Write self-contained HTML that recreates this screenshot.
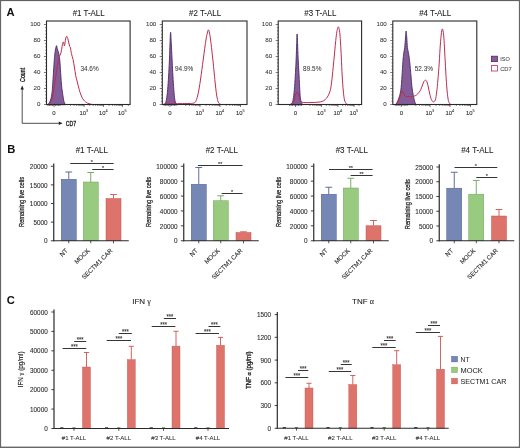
<!DOCTYPE html>
<html><head><meta charset="utf-8"><style>
html,body{margin:0;padding:0;background:#fff;width:520px;height:448px;overflow:hidden}
svg{display:block;filter:blur(0.3px)}
text{font-family:"Liberation Sans",sans-serif}
</style></head><body>
<svg width="520" height="448" viewBox="0 0 520 448">
<rect width="520" height="448" fill="#fff"/>
<text x="6.6" y="16.3" font-size="11.2" text-anchor="start" fill="#111" font-weight="bold">A</text>
<path d="M47.60,104.70 C47.84,104.46 48.56,104.19 49.10,103.20 C49.64,102.21 50.50,100.50 51.00,98.50 C51.50,96.50 51.93,93.70 52.25,90.70 C52.57,87.70 52.75,83.50 53.00,79.75 C53.25,76.00 53.54,71.00 53.80,67.25 C54.06,63.50 54.34,59.06 54.60,56.30 C54.86,53.54 55.10,51.70 55.40,50.00 C55.70,48.30 56.20,45.94 56.50,45.70 C56.80,45.46 56.98,47.56 57.25,48.50 C57.52,49.44 57.87,50.35 58.20,51.60 C58.53,52.85 59.00,54.30 59.30,56.30 C59.60,58.30 59.86,61.11 60.10,64.10 C60.34,67.09 60.56,71.50 60.80,75.00 C61.04,78.50 61.26,82.74 61.60,86.00 C61.94,89.26 62.52,92.90 62.90,95.40 C63.28,97.90 63.58,100.11 64.00,101.60 C64.42,103.09 65.26,104.20 65.50,104.70 Z" fill="#845c98" stroke="#4c2a62" stroke-width="0.9"/>
<path d="M48.30,104.70 C48.62,104.35 49.67,103.49 50.30,102.50 C50.93,101.51 51.69,100.66 52.25,98.50 C52.81,96.34 53.33,91.96 53.80,89.00 C54.27,86.04 54.70,83.20 55.20,80.00 C55.70,76.80 56.42,71.96 56.90,69.00 C57.38,66.04 57.80,63.50 58.20,61.50 C58.60,59.50 59.02,57.70 59.40,56.50 C59.78,55.30 60.25,55.12 60.60,54.00 C60.95,52.88 61.28,51.18 61.60,49.50 C61.92,47.82 62.30,44.70 62.60,43.50 C62.90,42.30 63.20,41.63 63.50,42.00 C63.80,42.37 64.16,46.28 64.50,45.80 C64.84,45.32 65.25,40.52 65.60,39.00 C65.95,37.48 66.35,36.38 66.70,36.30 C67.05,36.22 67.50,37.59 67.80,38.50 C68.10,39.41 68.31,40.80 68.60,42.00 C68.89,43.20 69.30,45.04 69.60,46.00 C69.90,46.96 70.21,46.80 70.50,48.00 C70.79,49.20 70.98,51.63 71.40,53.50 C71.82,55.37 72.62,57.54 73.10,59.70 C73.58,61.86 73.98,64.47 74.40,67.00 C74.82,69.53 75.24,73.10 75.70,75.50 C76.16,77.90 76.74,79.76 77.30,82.00 C77.86,84.24 78.61,87.42 79.20,89.50 C79.79,91.58 80.42,93.51 81.00,95.00 C81.58,96.49 82.19,97.81 82.80,98.80 C83.41,99.79 84.19,100.59 84.80,101.20 C85.41,101.81 85.93,102.20 86.60,102.60 C87.27,103.00 88.14,103.41 89.00,103.70 C89.86,103.99 91.52,104.29 92.00,104.40" fill="none" stroke="#bc2c50" stroke-width="1.0"/>
<rect x="46.50" y="21.00" width="83.60" height="83.50" fill="none" stroke="#2a2a2a" stroke-width="1.1"/>
<line x1="43.90" y1="104.50" x2="46.50" y2="104.50" stroke="#2a2a2a" stroke-width="0.6"/>
<line x1="45.20" y1="101.30" x2="46.50" y2="101.30" stroke="#2a2a2a" stroke-width="0.6"/>
<line x1="45.20" y1="98.10" x2="46.50" y2="98.10" stroke="#2a2a2a" stroke-width="0.6"/>
<line x1="45.20" y1="94.90" x2="46.50" y2="94.90" stroke="#2a2a2a" stroke-width="0.6"/>
<line x1="45.20" y1="91.70" x2="46.50" y2="91.70" stroke="#2a2a2a" stroke-width="0.6"/>
<line x1="43.90" y1="88.50" x2="46.50" y2="88.50" stroke="#2a2a2a" stroke-width="0.6"/>
<line x1="45.20" y1="85.30" x2="46.50" y2="85.30" stroke="#2a2a2a" stroke-width="0.6"/>
<line x1="45.20" y1="82.10" x2="46.50" y2="82.10" stroke="#2a2a2a" stroke-width="0.6"/>
<line x1="45.20" y1="78.90" x2="46.50" y2="78.90" stroke="#2a2a2a" stroke-width="0.6"/>
<line x1="45.20" y1="75.70" x2="46.50" y2="75.70" stroke="#2a2a2a" stroke-width="0.6"/>
<line x1="43.90" y1="72.50" x2="46.50" y2="72.50" stroke="#2a2a2a" stroke-width="0.6"/>
<line x1="45.20" y1="69.30" x2="46.50" y2="69.30" stroke="#2a2a2a" stroke-width="0.6"/>
<line x1="45.20" y1="66.10" x2="46.50" y2="66.10" stroke="#2a2a2a" stroke-width="0.6"/>
<line x1="45.20" y1="62.90" x2="46.50" y2="62.90" stroke="#2a2a2a" stroke-width="0.6"/>
<line x1="45.20" y1="59.70" x2="46.50" y2="59.70" stroke="#2a2a2a" stroke-width="0.6"/>
<line x1="43.90" y1="56.50" x2="46.50" y2="56.50" stroke="#2a2a2a" stroke-width="0.6"/>
<line x1="45.20" y1="53.30" x2="46.50" y2="53.30" stroke="#2a2a2a" stroke-width="0.6"/>
<line x1="45.20" y1="50.10" x2="46.50" y2="50.10" stroke="#2a2a2a" stroke-width="0.6"/>
<line x1="45.20" y1="46.90" x2="46.50" y2="46.90" stroke="#2a2a2a" stroke-width="0.6"/>
<line x1="45.20" y1="43.70" x2="46.50" y2="43.70" stroke="#2a2a2a" stroke-width="0.6"/>
<line x1="43.90" y1="40.50" x2="46.50" y2="40.50" stroke="#2a2a2a" stroke-width="0.6"/>
<line x1="45.20" y1="37.30" x2="46.50" y2="37.30" stroke="#2a2a2a" stroke-width="0.6"/>
<line x1="45.20" y1="34.10" x2="46.50" y2="34.10" stroke="#2a2a2a" stroke-width="0.6"/>
<line x1="45.20" y1="30.90" x2="46.50" y2="30.90" stroke="#2a2a2a" stroke-width="0.6"/>
<line x1="45.20" y1="27.70" x2="46.50" y2="27.70" stroke="#2a2a2a" stroke-width="0.6"/>
<line x1="43.90" y1="24.50" x2="46.50" y2="24.50" stroke="#2a2a2a" stroke-width="0.6"/>
<text x="40.5" y="106.3" font-size="6.2" text-anchor="end" fill="#333" stroke="#333" stroke-width="0.05">0</text>
<text x="40.5" y="90.3" font-size="6.2" text-anchor="end" fill="#333" stroke="#333" stroke-width="0.05">20</text>
<text x="40.5" y="74.3" font-size="6.2" text-anchor="end" fill="#333" stroke="#333" stroke-width="0.05">40</text>
<text x="40.5" y="58.3" font-size="6.2" text-anchor="end" fill="#333" stroke="#333" stroke-width="0.05">60</text>
<text x="40.5" y="42.3" font-size="6.2" text-anchor="end" fill="#333" stroke="#333" stroke-width="0.05">80</text>
<text x="40.5" y="26.3" font-size="6.2" text-anchor="end" fill="#333" stroke="#333" stroke-width="0.05">100</text>
<line x1="54.00" y1="104.50" x2="54.00" y2="106.90" stroke="#2a2a2a" stroke-width="0.7"/>
<line x1="84.00" y1="104.50" x2="84.00" y2="106.90" stroke="#2a2a2a" stroke-width="0.7"/>
<line x1="103.50" y1="104.50" x2="103.50" y2="106.90" stroke="#2a2a2a" stroke-width="0.7"/>
<line x1="122.50" y1="104.50" x2="122.50" y2="106.90" stroke="#2a2a2a" stroke-width="0.7"/>
<line x1="70.54" y1="104.50" x2="70.54" y2="106.00" stroke="#2a2a2a" stroke-width="0.55"/>
<line x1="73.93" y1="104.50" x2="73.93" y2="106.00" stroke="#2a2a2a" stroke-width="0.55"/>
<line x1="76.34" y1="104.50" x2="76.34" y2="106.00" stroke="#2a2a2a" stroke-width="0.55"/>
<line x1="78.21" y1="104.50" x2="78.21" y2="106.00" stroke="#2a2a2a" stroke-width="0.55"/>
<line x1="79.73" y1="104.50" x2="79.73" y2="106.00" stroke="#2a2a2a" stroke-width="0.55"/>
<line x1="81.02" y1="104.50" x2="81.02" y2="106.00" stroke="#2a2a2a" stroke-width="0.55"/>
<line x1="82.13" y1="104.50" x2="82.13" y2="106.00" stroke="#2a2a2a" stroke-width="0.55"/>
<line x1="83.12" y1="104.50" x2="83.12" y2="106.00" stroke="#2a2a2a" stroke-width="0.55"/>
<line x1="89.79" y1="104.50" x2="89.79" y2="106.00" stroke="#2a2a2a" stroke-width="0.55"/>
<line x1="93.18" y1="104.50" x2="93.18" y2="106.00" stroke="#2a2a2a" stroke-width="0.55"/>
<line x1="95.59" y1="104.50" x2="95.59" y2="106.00" stroke="#2a2a2a" stroke-width="0.55"/>
<line x1="97.46" y1="104.50" x2="97.46" y2="106.00" stroke="#2a2a2a" stroke-width="0.55"/>
<line x1="98.98" y1="104.50" x2="98.98" y2="106.00" stroke="#2a2a2a" stroke-width="0.55"/>
<line x1="100.27" y1="104.50" x2="100.27" y2="106.00" stroke="#2a2a2a" stroke-width="0.55"/>
<line x1="101.38" y1="104.50" x2="101.38" y2="106.00" stroke="#2a2a2a" stroke-width="0.55"/>
<line x1="102.37" y1="104.50" x2="102.37" y2="106.00" stroke="#2a2a2a" stroke-width="0.55"/>
<line x1="109.04" y1="104.50" x2="109.04" y2="106.00" stroke="#2a2a2a" stroke-width="0.55"/>
<line x1="112.43" y1="104.50" x2="112.43" y2="106.00" stroke="#2a2a2a" stroke-width="0.55"/>
<line x1="114.84" y1="104.50" x2="114.84" y2="106.00" stroke="#2a2a2a" stroke-width="0.55"/>
<line x1="116.71" y1="104.50" x2="116.71" y2="106.00" stroke="#2a2a2a" stroke-width="0.55"/>
<line x1="118.23" y1="104.50" x2="118.23" y2="106.00" stroke="#2a2a2a" stroke-width="0.55"/>
<line x1="119.52" y1="104.50" x2="119.52" y2="106.00" stroke="#2a2a2a" stroke-width="0.55"/>
<line x1="120.63" y1="104.50" x2="120.63" y2="106.00" stroke="#2a2a2a" stroke-width="0.55"/>
<line x1="121.62" y1="104.50" x2="121.62" y2="106.00" stroke="#2a2a2a" stroke-width="0.55"/>
<line x1="128.29" y1="104.50" x2="128.29" y2="106.00" stroke="#2a2a2a" stroke-width="0.55"/>
<line x1="48.00" y1="104.50" x2="48.00" y2="106.00" stroke="#2a2a2a" stroke-width="0.55"/>
<line x1="49.50" y1="104.50" x2="49.50" y2="106.00" stroke="#2a2a2a" stroke-width="0.55"/>
<line x1="51.00" y1="104.50" x2="51.00" y2="106.00" stroke="#2a2a2a" stroke-width="0.55"/>
<line x1="52.50" y1="104.50" x2="52.50" y2="106.00" stroke="#2a2a2a" stroke-width="0.55"/>
<line x1="55.50" y1="104.50" x2="55.50" y2="106.00" stroke="#2a2a2a" stroke-width="0.55"/>
<line x1="57.00" y1="104.50" x2="57.00" y2="106.00" stroke="#2a2a2a" stroke-width="0.55"/>
<line x1="58.50" y1="104.50" x2="58.50" y2="106.00" stroke="#2a2a2a" stroke-width="0.55"/>
<line x1="60.00" y1="104.50" x2="60.00" y2="106.00" stroke="#2a2a2a" stroke-width="0.55"/>
<text x="54.0" y="114.6" font-size="6.0" text-anchor="middle" fill="#2e2e2e" stroke="#2e2e2e" stroke-width="0.1">0</text>
<text x="82.8" y="114.8" font-size="5.9" text-anchor="middle" fill="#2e2e2e" stroke="#2e2e2e" stroke-width="0.1">10</text>
<text x="86.0" y="112.0" font-size="3.9" text-anchor="start" fill="#2e2e2e" stroke="#2e2e2e" stroke-width="0.05">3</text>
<text x="102.3" y="114.8" font-size="5.9" text-anchor="middle" fill="#2e2e2e" stroke="#2e2e2e" stroke-width="0.1">10</text>
<text x="105.5" y="112.0" font-size="3.9" text-anchor="start" fill="#2e2e2e" stroke="#2e2e2e" stroke-width="0.05">4</text>
<text x="121.3" y="114.8" font-size="5.9" text-anchor="middle" fill="#2e2e2e" stroke="#2e2e2e" stroke-width="0.1">10</text>
<text x="124.5" y="112.0" font-size="3.9" text-anchor="start" fill="#2e2e2e" stroke="#2e2e2e" stroke-width="0.05">5</text>
<text x="88.7" y="15.5" font-size="8.4" text-anchor="middle" fill="#222" textLength="32.0" lengthAdjust="spacingAndGlyphs" stroke="#222" stroke-width="0.08">#1 T-ALL</text>
<text x="80.4" y="71.0" font-size="7.0" text-anchor="start" fill="#3a3a3a" textLength="18.3" lengthAdjust="spacingAndGlyphs" stroke="#3a3a3a" stroke-width="0.05">34.6%</text>
<path d="M164.10,104.60 C164.34,104.31 165.17,103.95 165.60,102.80 C166.03,101.65 166.43,99.98 166.80,97.40 C167.17,94.82 167.58,90.70 167.90,86.70 C168.22,82.70 168.54,76.99 168.80,72.40 C169.06,67.81 169.31,62.56 169.50,58.00 C169.69,53.44 169.82,48.02 170.00,43.90 C170.18,39.78 170.39,32.25 170.60,32.25 C170.81,32.25 171.08,39.78 171.30,43.90 C171.52,48.02 171.78,53.44 172.00,58.00 C172.22,62.56 172.44,67.81 172.70,72.40 C172.96,76.99 173.31,82.70 173.60,86.70 C173.89,90.70 174.18,94.82 174.50,97.40 C174.82,99.98 175.17,101.65 175.60,102.80 C176.03,103.95 176.94,104.31 177.20,104.60 Z" fill="#845c98" stroke="#4c2a62" stroke-width="0.9"/>
<path d="M163.50,104.20 C164.54,104.14 167.36,103.90 170.00,103.80 C172.64,103.70 176.96,103.65 180.00,103.60 C183.04,103.55 186.92,103.56 189.00,103.50 C191.08,103.44 191.96,103.47 193.00,103.20 C194.04,102.93 194.76,102.95 195.50,101.80 C196.24,100.65 197.01,98.21 197.60,96.00 C198.19,93.79 198.72,90.72 199.20,88.00 C199.68,85.28 200.17,81.96 200.60,79.00 C201.03,76.04 201.47,72.70 201.90,69.50 C202.33,66.30 202.85,62.36 203.30,59.00 C203.75,55.64 204.25,51.70 204.70,48.50 C205.15,45.30 205.68,41.48 206.10,39.00 C206.52,36.52 206.93,34.47 207.30,33.00 C207.67,31.53 208.05,29.80 208.40,29.80 C208.75,29.80 209.15,31.37 209.50,33.00 C209.85,34.63 210.23,37.28 210.60,40.00 C210.97,42.72 211.43,46.80 211.80,50.00 C212.17,53.20 212.52,56.32 212.90,60.00 C213.28,63.68 213.78,68.84 214.20,73.00 C214.62,77.16 215.08,82.32 215.50,86.00 C215.92,89.68 216.37,93.44 216.80,96.00 C217.23,98.56 217.69,100.69 218.20,102.00 C218.71,103.31 219.39,103.78 220.00,104.20 C220.61,104.62 221.68,104.54 222.00,104.60" fill="none" stroke="#bc2c50" stroke-width="1.0"/>
<rect x="162.30" y="21.00" width="84.70" height="83.50" fill="none" stroke="#2a2a2a" stroke-width="1.1"/>
<line x1="159.70" y1="104.50" x2="162.30" y2="104.50" stroke="#2a2a2a" stroke-width="0.6"/>
<line x1="161.00" y1="101.30" x2="162.30" y2="101.30" stroke="#2a2a2a" stroke-width="0.6"/>
<line x1="161.00" y1="98.10" x2="162.30" y2="98.10" stroke="#2a2a2a" stroke-width="0.6"/>
<line x1="161.00" y1="94.90" x2="162.30" y2="94.90" stroke="#2a2a2a" stroke-width="0.6"/>
<line x1="161.00" y1="91.70" x2="162.30" y2="91.70" stroke="#2a2a2a" stroke-width="0.6"/>
<line x1="159.70" y1="88.50" x2="162.30" y2="88.50" stroke="#2a2a2a" stroke-width="0.6"/>
<line x1="161.00" y1="85.30" x2="162.30" y2="85.30" stroke="#2a2a2a" stroke-width="0.6"/>
<line x1="161.00" y1="82.10" x2="162.30" y2="82.10" stroke="#2a2a2a" stroke-width="0.6"/>
<line x1="161.00" y1="78.90" x2="162.30" y2="78.90" stroke="#2a2a2a" stroke-width="0.6"/>
<line x1="161.00" y1="75.70" x2="162.30" y2="75.70" stroke="#2a2a2a" stroke-width="0.6"/>
<line x1="159.70" y1="72.50" x2="162.30" y2="72.50" stroke="#2a2a2a" stroke-width="0.6"/>
<line x1="161.00" y1="69.30" x2="162.30" y2="69.30" stroke="#2a2a2a" stroke-width="0.6"/>
<line x1="161.00" y1="66.10" x2="162.30" y2="66.10" stroke="#2a2a2a" stroke-width="0.6"/>
<line x1="161.00" y1="62.90" x2="162.30" y2="62.90" stroke="#2a2a2a" stroke-width="0.6"/>
<line x1="161.00" y1="59.70" x2="162.30" y2="59.70" stroke="#2a2a2a" stroke-width="0.6"/>
<line x1="159.70" y1="56.50" x2="162.30" y2="56.50" stroke="#2a2a2a" stroke-width="0.6"/>
<line x1="161.00" y1="53.30" x2="162.30" y2="53.30" stroke="#2a2a2a" stroke-width="0.6"/>
<line x1="161.00" y1="50.10" x2="162.30" y2="50.10" stroke="#2a2a2a" stroke-width="0.6"/>
<line x1="161.00" y1="46.90" x2="162.30" y2="46.90" stroke="#2a2a2a" stroke-width="0.6"/>
<line x1="161.00" y1="43.70" x2="162.30" y2="43.70" stroke="#2a2a2a" stroke-width="0.6"/>
<line x1="159.70" y1="40.50" x2="162.30" y2="40.50" stroke="#2a2a2a" stroke-width="0.6"/>
<line x1="161.00" y1="37.30" x2="162.30" y2="37.30" stroke="#2a2a2a" stroke-width="0.6"/>
<line x1="161.00" y1="34.10" x2="162.30" y2="34.10" stroke="#2a2a2a" stroke-width="0.6"/>
<line x1="161.00" y1="30.90" x2="162.30" y2="30.90" stroke="#2a2a2a" stroke-width="0.6"/>
<line x1="161.00" y1="27.70" x2="162.30" y2="27.70" stroke="#2a2a2a" stroke-width="0.6"/>
<line x1="159.70" y1="24.50" x2="162.30" y2="24.50" stroke="#2a2a2a" stroke-width="0.6"/>
<text x="156.3" y="106.3" font-size="6.2" text-anchor="end" fill="#333" stroke="#333" stroke-width="0.05">0</text>
<text x="156.3" y="90.3" font-size="6.2" text-anchor="end" fill="#333" stroke="#333" stroke-width="0.05">20</text>
<text x="156.3" y="74.3" font-size="6.2" text-anchor="end" fill="#333" stroke="#333" stroke-width="0.05">40</text>
<text x="156.3" y="58.3" font-size="6.2" text-anchor="end" fill="#333" stroke="#333" stroke-width="0.05">60</text>
<text x="156.3" y="42.3" font-size="6.2" text-anchor="end" fill="#333" stroke="#333" stroke-width="0.05">80</text>
<text x="156.3" y="26.3" font-size="6.2" text-anchor="end" fill="#333" stroke="#333" stroke-width="0.05">100</text>
<line x1="170.00" y1="104.50" x2="170.00" y2="106.90" stroke="#2a2a2a" stroke-width="0.7"/>
<line x1="200.00" y1="104.50" x2="200.00" y2="106.90" stroke="#2a2a2a" stroke-width="0.7"/>
<line x1="219.90" y1="104.50" x2="219.90" y2="106.90" stroke="#2a2a2a" stroke-width="0.7"/>
<line x1="240.50" y1="104.50" x2="240.50" y2="106.90" stroke="#2a2a2a" stroke-width="0.7"/>
<line x1="185.85" y1="104.50" x2="185.85" y2="106.00" stroke="#2a2a2a" stroke-width="0.55"/>
<line x1="189.41" y1="104.50" x2="189.41" y2="106.00" stroke="#2a2a2a" stroke-width="0.55"/>
<line x1="191.94" y1="104.50" x2="191.94" y2="106.00" stroke="#2a2a2a" stroke-width="0.55"/>
<line x1="193.90" y1="104.50" x2="193.90" y2="106.00" stroke="#2a2a2a" stroke-width="0.55"/>
<line x1="195.51" y1="104.50" x2="195.51" y2="106.00" stroke="#2a2a2a" stroke-width="0.55"/>
<line x1="196.86" y1="104.50" x2="196.86" y2="106.00" stroke="#2a2a2a" stroke-width="0.55"/>
<line x1="198.04" y1="104.50" x2="198.04" y2="106.00" stroke="#2a2a2a" stroke-width="0.55"/>
<line x1="199.07" y1="104.50" x2="199.07" y2="106.00" stroke="#2a2a2a" stroke-width="0.55"/>
<line x1="206.10" y1="104.50" x2="206.10" y2="106.00" stroke="#2a2a2a" stroke-width="0.55"/>
<line x1="209.66" y1="104.50" x2="209.66" y2="106.00" stroke="#2a2a2a" stroke-width="0.55"/>
<line x1="212.19" y1="104.50" x2="212.19" y2="106.00" stroke="#2a2a2a" stroke-width="0.55"/>
<line x1="214.15" y1="104.50" x2="214.15" y2="106.00" stroke="#2a2a2a" stroke-width="0.55"/>
<line x1="215.76" y1="104.50" x2="215.76" y2="106.00" stroke="#2a2a2a" stroke-width="0.55"/>
<line x1="217.11" y1="104.50" x2="217.11" y2="106.00" stroke="#2a2a2a" stroke-width="0.55"/>
<line x1="218.29" y1="104.50" x2="218.29" y2="106.00" stroke="#2a2a2a" stroke-width="0.55"/>
<line x1="219.32" y1="104.50" x2="219.32" y2="106.00" stroke="#2a2a2a" stroke-width="0.55"/>
<line x1="226.35" y1="104.50" x2="226.35" y2="106.00" stroke="#2a2a2a" stroke-width="0.55"/>
<line x1="229.91" y1="104.50" x2="229.91" y2="106.00" stroke="#2a2a2a" stroke-width="0.55"/>
<line x1="232.44" y1="104.50" x2="232.44" y2="106.00" stroke="#2a2a2a" stroke-width="0.55"/>
<line x1="234.40" y1="104.50" x2="234.40" y2="106.00" stroke="#2a2a2a" stroke-width="0.55"/>
<line x1="236.01" y1="104.50" x2="236.01" y2="106.00" stroke="#2a2a2a" stroke-width="0.55"/>
<line x1="237.36" y1="104.50" x2="237.36" y2="106.00" stroke="#2a2a2a" stroke-width="0.55"/>
<line x1="238.54" y1="104.50" x2="238.54" y2="106.00" stroke="#2a2a2a" stroke-width="0.55"/>
<line x1="239.57" y1="104.50" x2="239.57" y2="106.00" stroke="#2a2a2a" stroke-width="0.55"/>
<line x1="164.00" y1="104.50" x2="164.00" y2="106.00" stroke="#2a2a2a" stroke-width="0.55"/>
<line x1="165.50" y1="104.50" x2="165.50" y2="106.00" stroke="#2a2a2a" stroke-width="0.55"/>
<line x1="167.00" y1="104.50" x2="167.00" y2="106.00" stroke="#2a2a2a" stroke-width="0.55"/>
<line x1="168.50" y1="104.50" x2="168.50" y2="106.00" stroke="#2a2a2a" stroke-width="0.55"/>
<line x1="171.50" y1="104.50" x2="171.50" y2="106.00" stroke="#2a2a2a" stroke-width="0.55"/>
<line x1="173.00" y1="104.50" x2="173.00" y2="106.00" stroke="#2a2a2a" stroke-width="0.55"/>
<line x1="174.50" y1="104.50" x2="174.50" y2="106.00" stroke="#2a2a2a" stroke-width="0.55"/>
<line x1="176.00" y1="104.50" x2="176.00" y2="106.00" stroke="#2a2a2a" stroke-width="0.55"/>
<text x="170.0" y="114.6" font-size="6.0" text-anchor="middle" fill="#2e2e2e" stroke="#2e2e2e" stroke-width="0.1">0</text>
<text x="198.8" y="114.8" font-size="5.9" text-anchor="middle" fill="#2e2e2e" stroke="#2e2e2e" stroke-width="0.1">10</text>
<text x="202.0" y="112.0" font-size="3.9" text-anchor="start" fill="#2e2e2e" stroke="#2e2e2e" stroke-width="0.05">3</text>
<text x="218.70000000000002" y="114.8" font-size="5.9" text-anchor="middle" fill="#2e2e2e" stroke="#2e2e2e" stroke-width="0.1">10</text>
<text x="221.9" y="112.0" font-size="3.9" text-anchor="start" fill="#2e2e2e" stroke="#2e2e2e" stroke-width="0.05">4</text>
<text x="239.3" y="114.8" font-size="5.9" text-anchor="middle" fill="#2e2e2e" stroke="#2e2e2e" stroke-width="0.1">10</text>
<text x="242.5" y="112.0" font-size="3.9" text-anchor="start" fill="#2e2e2e" stroke="#2e2e2e" stroke-width="0.05">5</text>
<text x="205.05" y="15.5" font-size="8.4" text-anchor="middle" fill="#222" textLength="32.0" lengthAdjust="spacingAndGlyphs" stroke="#222" stroke-width="0.08">#2 T-ALL</text>
<text x="175.0" y="71.0" font-size="7.0" text-anchor="start" fill="#3a3a3a" textLength="18.3" lengthAdjust="spacingAndGlyphs" stroke="#3a3a3a" stroke-width="0.05">94.9%</text>
<path d="M290.50,104.60 C290.78,104.31 291.77,103.95 292.25,102.80 C292.73,101.65 293.12,99.98 293.50,97.40 C293.88,94.82 294.28,90.70 294.60,86.70 C294.92,82.70 295.24,76.98 295.50,72.40 C295.76,67.82 296.01,62.66 296.20,58.10 C296.39,53.54 296.56,47.76 296.70,43.90 C296.84,40.04 296.96,34.00 297.10,34.00 C297.24,34.00 297.44,40.04 297.60,43.90 C297.76,47.76 297.89,53.54 298.10,58.10 C298.31,62.66 298.66,67.82 298.90,72.40 C299.14,76.98 299.38,82.70 299.60,86.70 C299.82,90.70 300.01,94.82 300.30,97.40 C300.59,99.98 300.97,101.65 301.40,102.80 C301.83,103.95 302.74,104.31 303.00,104.60 Z" fill="#845c98" stroke="#4c2a62" stroke-width="0.9"/>
<path d="M289.50,104.60 C289.90,104.42 291.28,104.08 292.00,103.50 C292.72,102.92 293.42,102.36 294.00,101.00 C294.58,99.64 295.10,96.44 295.60,95.00 C296.10,93.56 296.62,92.00 297.10,92.00 C297.58,92.00 298.12,93.72 298.60,95.00 C299.08,96.28 299.56,98.85 300.10,100.00 C300.64,101.15 301.06,101.78 302.00,102.20 C302.94,102.62 304.40,102.55 306.00,102.60 C307.60,102.65 310.08,102.56 312.00,102.50 C313.92,102.44 316.37,102.38 318.00,102.20 C319.63,102.02 321.08,101.78 322.20,101.40 C323.32,101.02 324.17,100.50 325.00,99.80 C325.83,99.10 326.70,98.09 327.40,97.00 C328.10,95.91 328.86,94.44 329.40,93.00 C329.94,91.56 330.35,90.56 330.80,88.00 C331.25,85.44 331.80,80.52 332.20,77.00 C332.60,73.48 332.95,69.52 333.30,66.00 C333.65,62.48 334.05,58.68 334.40,55.00 C334.75,51.32 335.15,46.44 335.50,43.00 C335.85,39.56 336.28,35.82 336.60,33.50 C336.92,31.18 337.23,29.57 337.50,28.50 C337.77,27.43 338.04,26.75 338.30,26.80 C338.56,26.85 338.84,27.65 339.10,28.80 C339.36,29.95 339.66,31.57 339.90,34.00 C340.14,36.43 340.38,40.32 340.60,44.00 C340.82,47.68 341.04,51.88 341.30,57.00 C341.56,62.12 341.88,70.56 342.20,76.00 C342.52,81.44 342.93,87.16 343.30,91.00 C343.67,94.84 344.02,97.95 344.50,100.00 C344.98,102.05 345.66,103.06 346.30,103.80 C346.94,104.54 348.15,104.47 348.50,104.60" fill="none" stroke="#bc2c50" stroke-width="1.0"/>
<rect x="278.20" y="21.00" width="83.40" height="83.50" fill="none" stroke="#2a2a2a" stroke-width="1.1"/>
<line x1="275.60" y1="104.50" x2="278.20" y2="104.50" stroke="#2a2a2a" stroke-width="0.6"/>
<line x1="276.90" y1="101.30" x2="278.20" y2="101.30" stroke="#2a2a2a" stroke-width="0.6"/>
<line x1="276.90" y1="98.10" x2="278.20" y2="98.10" stroke="#2a2a2a" stroke-width="0.6"/>
<line x1="276.90" y1="94.90" x2="278.20" y2="94.90" stroke="#2a2a2a" stroke-width="0.6"/>
<line x1="276.90" y1="91.70" x2="278.20" y2="91.70" stroke="#2a2a2a" stroke-width="0.6"/>
<line x1="275.60" y1="88.50" x2="278.20" y2="88.50" stroke="#2a2a2a" stroke-width="0.6"/>
<line x1="276.90" y1="85.30" x2="278.20" y2="85.30" stroke="#2a2a2a" stroke-width="0.6"/>
<line x1="276.90" y1="82.10" x2="278.20" y2="82.10" stroke="#2a2a2a" stroke-width="0.6"/>
<line x1="276.90" y1="78.90" x2="278.20" y2="78.90" stroke="#2a2a2a" stroke-width="0.6"/>
<line x1="276.90" y1="75.70" x2="278.20" y2="75.70" stroke="#2a2a2a" stroke-width="0.6"/>
<line x1="275.60" y1="72.50" x2="278.20" y2="72.50" stroke="#2a2a2a" stroke-width="0.6"/>
<line x1="276.90" y1="69.30" x2="278.20" y2="69.30" stroke="#2a2a2a" stroke-width="0.6"/>
<line x1="276.90" y1="66.10" x2="278.20" y2="66.10" stroke="#2a2a2a" stroke-width="0.6"/>
<line x1="276.90" y1="62.90" x2="278.20" y2="62.90" stroke="#2a2a2a" stroke-width="0.6"/>
<line x1="276.90" y1="59.70" x2="278.20" y2="59.70" stroke="#2a2a2a" stroke-width="0.6"/>
<line x1="275.60" y1="56.50" x2="278.20" y2="56.50" stroke="#2a2a2a" stroke-width="0.6"/>
<line x1="276.90" y1="53.30" x2="278.20" y2="53.30" stroke="#2a2a2a" stroke-width="0.6"/>
<line x1="276.90" y1="50.10" x2="278.20" y2="50.10" stroke="#2a2a2a" stroke-width="0.6"/>
<line x1="276.90" y1="46.90" x2="278.20" y2="46.90" stroke="#2a2a2a" stroke-width="0.6"/>
<line x1="276.90" y1="43.70" x2="278.20" y2="43.70" stroke="#2a2a2a" stroke-width="0.6"/>
<line x1="275.60" y1="40.50" x2="278.20" y2="40.50" stroke="#2a2a2a" stroke-width="0.6"/>
<line x1="276.90" y1="37.30" x2="278.20" y2="37.30" stroke="#2a2a2a" stroke-width="0.6"/>
<line x1="276.90" y1="34.10" x2="278.20" y2="34.10" stroke="#2a2a2a" stroke-width="0.6"/>
<line x1="276.90" y1="30.90" x2="278.20" y2="30.90" stroke="#2a2a2a" stroke-width="0.6"/>
<line x1="276.90" y1="27.70" x2="278.20" y2="27.70" stroke="#2a2a2a" stroke-width="0.6"/>
<line x1="275.60" y1="24.50" x2="278.20" y2="24.50" stroke="#2a2a2a" stroke-width="0.6"/>
<text x="272.2" y="106.3" font-size="6.2" text-anchor="end" fill="#333" stroke="#333" stroke-width="0.05">0</text>
<text x="272.2" y="90.3" font-size="6.2" text-anchor="end" fill="#333" stroke="#333" stroke-width="0.05">20</text>
<text x="272.2" y="74.3" font-size="6.2" text-anchor="end" fill="#333" stroke="#333" stroke-width="0.05">40</text>
<text x="272.2" y="58.3" font-size="6.2" text-anchor="end" fill="#333" stroke="#333" stroke-width="0.05">60</text>
<text x="272.2" y="42.3" font-size="6.2" text-anchor="end" fill="#333" stroke="#333" stroke-width="0.05">80</text>
<text x="272.2" y="26.3" font-size="6.2" text-anchor="end" fill="#333" stroke="#333" stroke-width="0.05">100</text>
<line x1="295.50" y1="104.50" x2="295.50" y2="106.90" stroke="#2a2a2a" stroke-width="0.7"/>
<line x1="321.40" y1="104.50" x2="321.40" y2="106.90" stroke="#2a2a2a" stroke-width="0.7"/>
<line x1="337.90" y1="104.50" x2="337.90" y2="106.90" stroke="#2a2a2a" stroke-width="0.7"/>
<line x1="354.10" y1="104.50" x2="354.10" y2="106.90" stroke="#2a2a2a" stroke-width="0.7"/>
<line x1="309.97" y1="104.50" x2="309.97" y2="106.00" stroke="#2a2a2a" stroke-width="0.55"/>
<line x1="312.85" y1="104.50" x2="312.85" y2="106.00" stroke="#2a2a2a" stroke-width="0.55"/>
<line x1="314.89" y1="104.50" x2="314.89" y2="106.00" stroke="#2a2a2a" stroke-width="0.55"/>
<line x1="316.48" y1="104.50" x2="316.48" y2="106.00" stroke="#2a2a2a" stroke-width="0.55"/>
<line x1="317.77" y1="104.50" x2="317.77" y2="106.00" stroke="#2a2a2a" stroke-width="0.55"/>
<line x1="318.87" y1="104.50" x2="318.87" y2="106.00" stroke="#2a2a2a" stroke-width="0.55"/>
<line x1="319.82" y1="104.50" x2="319.82" y2="106.00" stroke="#2a2a2a" stroke-width="0.55"/>
<line x1="320.65" y1="104.50" x2="320.65" y2="106.00" stroke="#2a2a2a" stroke-width="0.55"/>
<line x1="326.32" y1="104.50" x2="326.32" y2="106.00" stroke="#2a2a2a" stroke-width="0.55"/>
<line x1="329.20" y1="104.50" x2="329.20" y2="106.00" stroke="#2a2a2a" stroke-width="0.55"/>
<line x1="331.24" y1="104.50" x2="331.24" y2="106.00" stroke="#2a2a2a" stroke-width="0.55"/>
<line x1="332.83" y1="104.50" x2="332.83" y2="106.00" stroke="#2a2a2a" stroke-width="0.55"/>
<line x1="334.12" y1="104.50" x2="334.12" y2="106.00" stroke="#2a2a2a" stroke-width="0.55"/>
<line x1="335.22" y1="104.50" x2="335.22" y2="106.00" stroke="#2a2a2a" stroke-width="0.55"/>
<line x1="336.17" y1="104.50" x2="336.17" y2="106.00" stroke="#2a2a2a" stroke-width="0.55"/>
<line x1="337.00" y1="104.50" x2="337.00" y2="106.00" stroke="#2a2a2a" stroke-width="0.55"/>
<line x1="342.67" y1="104.50" x2="342.67" y2="106.00" stroke="#2a2a2a" stroke-width="0.55"/>
<line x1="345.55" y1="104.50" x2="345.55" y2="106.00" stroke="#2a2a2a" stroke-width="0.55"/>
<line x1="347.59" y1="104.50" x2="347.59" y2="106.00" stroke="#2a2a2a" stroke-width="0.55"/>
<line x1="349.18" y1="104.50" x2="349.18" y2="106.00" stroke="#2a2a2a" stroke-width="0.55"/>
<line x1="350.47" y1="104.50" x2="350.47" y2="106.00" stroke="#2a2a2a" stroke-width="0.55"/>
<line x1="351.57" y1="104.50" x2="351.57" y2="106.00" stroke="#2a2a2a" stroke-width="0.55"/>
<line x1="352.52" y1="104.50" x2="352.52" y2="106.00" stroke="#2a2a2a" stroke-width="0.55"/>
<line x1="353.35" y1="104.50" x2="353.35" y2="106.00" stroke="#2a2a2a" stroke-width="0.55"/>
<line x1="359.02" y1="104.50" x2="359.02" y2="106.00" stroke="#2a2a2a" stroke-width="0.55"/>
<line x1="289.50" y1="104.50" x2="289.50" y2="106.00" stroke="#2a2a2a" stroke-width="0.55"/>
<line x1="291.00" y1="104.50" x2="291.00" y2="106.00" stroke="#2a2a2a" stroke-width="0.55"/>
<line x1="292.50" y1="104.50" x2="292.50" y2="106.00" stroke="#2a2a2a" stroke-width="0.55"/>
<line x1="294.00" y1="104.50" x2="294.00" y2="106.00" stroke="#2a2a2a" stroke-width="0.55"/>
<line x1="297.00" y1="104.50" x2="297.00" y2="106.00" stroke="#2a2a2a" stroke-width="0.55"/>
<line x1="298.50" y1="104.50" x2="298.50" y2="106.00" stroke="#2a2a2a" stroke-width="0.55"/>
<line x1="300.00" y1="104.50" x2="300.00" y2="106.00" stroke="#2a2a2a" stroke-width="0.55"/>
<line x1="301.50" y1="104.50" x2="301.50" y2="106.00" stroke="#2a2a2a" stroke-width="0.55"/>
<text x="295.5" y="114.6" font-size="6.0" text-anchor="middle" fill="#2e2e2e" stroke="#2e2e2e" stroke-width="0.1">0</text>
<text x="320.2" y="114.8" font-size="5.9" text-anchor="middle" fill="#2e2e2e" stroke="#2e2e2e" stroke-width="0.1">10</text>
<text x="323.4" y="112.0" font-size="3.9" text-anchor="start" fill="#2e2e2e" stroke="#2e2e2e" stroke-width="0.05">3</text>
<text x="336.7" y="114.8" font-size="5.9" text-anchor="middle" fill="#2e2e2e" stroke="#2e2e2e" stroke-width="0.1">10</text>
<text x="339.9" y="112.0" font-size="3.9" text-anchor="start" fill="#2e2e2e" stroke="#2e2e2e" stroke-width="0.05">4</text>
<text x="352.90000000000003" y="114.8" font-size="5.9" text-anchor="middle" fill="#2e2e2e" stroke="#2e2e2e" stroke-width="0.1">10</text>
<text x="356.1" y="112.0" font-size="3.9" text-anchor="start" fill="#2e2e2e" stroke="#2e2e2e" stroke-width="0.05">5</text>
<text x="320.29999999999995" y="15.5" font-size="8.4" text-anchor="middle" fill="#222" textLength="32.0" lengthAdjust="spacingAndGlyphs" stroke="#222" stroke-width="0.08">#3 T-ALL</text>
<text x="303.1" y="71.0" font-size="7.0" text-anchor="start" fill="#3a3a3a" textLength="18.3" lengthAdjust="spacingAndGlyphs" stroke="#3a3a3a" stroke-width="0.05">89.5%</text>
<path d="M395.80,104.60 C396.23,103.74 397.70,101.49 398.50,99.20 C399.30,96.91 400.24,94.01 400.80,90.30 C401.36,86.59 401.66,80.58 402.00,76.00 C402.34,71.42 402.61,65.41 402.90,61.70 C403.19,57.99 403.51,55.09 403.80,52.80 C404.09,50.51 404.43,49.77 404.70,47.40 C404.97,45.03 405.28,40.62 405.50,38.00 C405.72,35.38 405.89,31.00 406.10,31.00 C406.31,31.00 406.59,35.38 406.80,38.00 C407.01,40.62 407.11,44.89 407.40,47.40 C407.69,49.91 408.23,51.41 408.60,53.70 C408.97,55.99 409.32,58.13 409.70,61.70 C410.08,65.27 410.65,72.00 411.00,76.00 C411.35,80.00 411.53,83.56 411.90,86.70 C412.27,89.84 412.79,93.02 413.30,95.60 C413.81,98.18 414.62,101.36 415.10,102.80 C415.58,104.24 416.11,104.31 416.30,104.60 Z" fill="#845c98" stroke="#4c2a62" stroke-width="0.9"/>
<path d="M395.50,104.60 C395.82,104.26 396.86,103.56 397.50,102.50 C398.14,101.44 398.94,99.44 399.50,98.00 C400.06,96.56 400.60,94.62 401.00,93.50 C401.40,92.38 401.68,91.24 402.00,91.00 C402.32,90.76 402.65,91.36 403.00,92.00 C403.35,92.64 403.80,94.31 404.20,95.00 C404.60,95.69 404.89,96.04 405.50,96.30 C406.11,96.56 407.12,96.52 408.00,96.60 C408.88,96.68 410.04,96.86 411.00,96.80 C411.96,96.74 413.12,96.49 414.00,96.20 C414.88,95.91 415.73,95.58 416.50,95.00 C417.27,94.42 418.11,93.48 418.80,92.60 C419.49,91.72 420.21,90.72 420.80,89.50 C421.39,88.28 421.99,86.28 422.50,85.00 C423.01,83.72 423.50,82.27 424.00,81.50 C424.50,80.73 425.12,80.12 425.60,80.20 C426.08,80.28 426.57,80.91 427.00,82.00 C427.43,83.09 427.85,85.08 428.30,87.00 C428.75,88.92 429.32,92.03 429.80,94.00 C430.28,95.97 430.76,98.05 431.30,99.30 C431.84,100.55 432.56,101.69 433.20,101.80 C433.84,101.91 434.74,101.57 435.30,100.00 C435.86,98.43 436.28,95.20 436.70,92.00 C437.12,88.80 437.50,84.64 437.90,80.00 C438.30,75.36 438.82,68.60 439.20,63.00 C439.58,57.40 439.96,49.64 440.30,45.00 C440.64,40.36 441.00,36.56 441.30,34.00 C441.60,31.44 441.91,29.48 442.20,29.00 C442.49,28.52 442.83,29.56 443.10,31.00 C443.37,32.44 443.66,34.96 443.90,38.00 C444.14,41.04 444.38,46.00 444.60,50.00 C444.82,54.00 445.04,58.36 445.30,63.00 C445.56,67.64 445.90,74.36 446.20,79.00 C446.50,83.64 446.85,88.56 447.20,92.00 C447.55,95.44 447.98,98.61 448.40,100.50 C448.82,102.39 449.30,103.14 449.80,103.80 C450.30,104.46 451.23,104.47 451.50,104.60" fill="none" stroke="#bc2c50" stroke-width="1.0"/>
<rect x="392.80" y="21.00" width="84.00" height="83.50" fill="none" stroke="#2a2a2a" stroke-width="1.1"/>
<line x1="390.20" y1="104.50" x2="392.80" y2="104.50" stroke="#2a2a2a" stroke-width="0.6"/>
<line x1="391.50" y1="101.30" x2="392.80" y2="101.30" stroke="#2a2a2a" stroke-width="0.6"/>
<line x1="391.50" y1="98.10" x2="392.80" y2="98.10" stroke="#2a2a2a" stroke-width="0.6"/>
<line x1="391.50" y1="94.90" x2="392.80" y2="94.90" stroke="#2a2a2a" stroke-width="0.6"/>
<line x1="391.50" y1="91.70" x2="392.80" y2="91.70" stroke="#2a2a2a" stroke-width="0.6"/>
<line x1="390.20" y1="88.50" x2="392.80" y2="88.50" stroke="#2a2a2a" stroke-width="0.6"/>
<line x1="391.50" y1="85.30" x2="392.80" y2="85.30" stroke="#2a2a2a" stroke-width="0.6"/>
<line x1="391.50" y1="82.10" x2="392.80" y2="82.10" stroke="#2a2a2a" stroke-width="0.6"/>
<line x1="391.50" y1="78.90" x2="392.80" y2="78.90" stroke="#2a2a2a" stroke-width="0.6"/>
<line x1="391.50" y1="75.70" x2="392.80" y2="75.70" stroke="#2a2a2a" stroke-width="0.6"/>
<line x1="390.20" y1="72.50" x2="392.80" y2="72.50" stroke="#2a2a2a" stroke-width="0.6"/>
<line x1="391.50" y1="69.30" x2="392.80" y2="69.30" stroke="#2a2a2a" stroke-width="0.6"/>
<line x1="391.50" y1="66.10" x2="392.80" y2="66.10" stroke="#2a2a2a" stroke-width="0.6"/>
<line x1="391.50" y1="62.90" x2="392.80" y2="62.90" stroke="#2a2a2a" stroke-width="0.6"/>
<line x1="391.50" y1="59.70" x2="392.80" y2="59.70" stroke="#2a2a2a" stroke-width="0.6"/>
<line x1="390.20" y1="56.50" x2="392.80" y2="56.50" stroke="#2a2a2a" stroke-width="0.6"/>
<line x1="391.50" y1="53.30" x2="392.80" y2="53.30" stroke="#2a2a2a" stroke-width="0.6"/>
<line x1="391.50" y1="50.10" x2="392.80" y2="50.10" stroke="#2a2a2a" stroke-width="0.6"/>
<line x1="391.50" y1="46.90" x2="392.80" y2="46.90" stroke="#2a2a2a" stroke-width="0.6"/>
<line x1="391.50" y1="43.70" x2="392.80" y2="43.70" stroke="#2a2a2a" stroke-width="0.6"/>
<line x1="390.20" y1="40.50" x2="392.80" y2="40.50" stroke="#2a2a2a" stroke-width="0.6"/>
<line x1="391.50" y1="37.30" x2="392.80" y2="37.30" stroke="#2a2a2a" stroke-width="0.6"/>
<line x1="391.50" y1="34.10" x2="392.80" y2="34.10" stroke="#2a2a2a" stroke-width="0.6"/>
<line x1="391.50" y1="30.90" x2="392.80" y2="30.90" stroke="#2a2a2a" stroke-width="0.6"/>
<line x1="391.50" y1="27.70" x2="392.80" y2="27.70" stroke="#2a2a2a" stroke-width="0.6"/>
<line x1="390.20" y1="24.50" x2="392.80" y2="24.50" stroke="#2a2a2a" stroke-width="0.6"/>
<text x="386.8" y="106.3" font-size="6.2" text-anchor="end" fill="#333" stroke="#333" stroke-width="0.05">0</text>
<text x="386.8" y="90.3" font-size="6.2" text-anchor="end" fill="#333" stroke="#333" stroke-width="0.05">20</text>
<text x="386.8" y="74.3" font-size="6.2" text-anchor="end" fill="#333" stroke="#333" stroke-width="0.05">40</text>
<text x="386.8" y="58.3" font-size="6.2" text-anchor="end" fill="#333" stroke="#333" stroke-width="0.05">60</text>
<text x="386.8" y="42.3" font-size="6.2" text-anchor="end" fill="#333" stroke="#333" stroke-width="0.05">80</text>
<text x="386.8" y="26.3" font-size="6.2" text-anchor="end" fill="#333" stroke="#333" stroke-width="0.05">100</text>
<line x1="401.30" y1="104.50" x2="401.30" y2="106.90" stroke="#2a2a2a" stroke-width="0.7"/>
<line x1="430.00" y1="104.50" x2="430.00" y2="106.90" stroke="#2a2a2a" stroke-width="0.7"/>
<line x1="450.00" y1="104.50" x2="450.00" y2="106.90" stroke="#2a2a2a" stroke-width="0.7"/>
<line x1="470.50" y1="104.50" x2="470.50" y2="106.90" stroke="#2a2a2a" stroke-width="0.7"/>
<line x1="415.85" y1="104.50" x2="415.85" y2="106.00" stroke="#2a2a2a" stroke-width="0.55"/>
<line x1="419.41" y1="104.50" x2="419.41" y2="106.00" stroke="#2a2a2a" stroke-width="0.55"/>
<line x1="421.94" y1="104.50" x2="421.94" y2="106.00" stroke="#2a2a2a" stroke-width="0.55"/>
<line x1="423.90" y1="104.50" x2="423.90" y2="106.00" stroke="#2a2a2a" stroke-width="0.55"/>
<line x1="425.51" y1="104.50" x2="425.51" y2="106.00" stroke="#2a2a2a" stroke-width="0.55"/>
<line x1="426.86" y1="104.50" x2="426.86" y2="106.00" stroke="#2a2a2a" stroke-width="0.55"/>
<line x1="428.04" y1="104.50" x2="428.04" y2="106.00" stroke="#2a2a2a" stroke-width="0.55"/>
<line x1="429.07" y1="104.50" x2="429.07" y2="106.00" stroke="#2a2a2a" stroke-width="0.55"/>
<line x1="436.10" y1="104.50" x2="436.10" y2="106.00" stroke="#2a2a2a" stroke-width="0.55"/>
<line x1="439.66" y1="104.50" x2="439.66" y2="106.00" stroke="#2a2a2a" stroke-width="0.55"/>
<line x1="442.19" y1="104.50" x2="442.19" y2="106.00" stroke="#2a2a2a" stroke-width="0.55"/>
<line x1="444.15" y1="104.50" x2="444.15" y2="106.00" stroke="#2a2a2a" stroke-width="0.55"/>
<line x1="445.76" y1="104.50" x2="445.76" y2="106.00" stroke="#2a2a2a" stroke-width="0.55"/>
<line x1="447.11" y1="104.50" x2="447.11" y2="106.00" stroke="#2a2a2a" stroke-width="0.55"/>
<line x1="448.29" y1="104.50" x2="448.29" y2="106.00" stroke="#2a2a2a" stroke-width="0.55"/>
<line x1="449.32" y1="104.50" x2="449.32" y2="106.00" stroke="#2a2a2a" stroke-width="0.55"/>
<line x1="456.35" y1="104.50" x2="456.35" y2="106.00" stroke="#2a2a2a" stroke-width="0.55"/>
<line x1="459.91" y1="104.50" x2="459.91" y2="106.00" stroke="#2a2a2a" stroke-width="0.55"/>
<line x1="462.44" y1="104.50" x2="462.44" y2="106.00" stroke="#2a2a2a" stroke-width="0.55"/>
<line x1="464.40" y1="104.50" x2="464.40" y2="106.00" stroke="#2a2a2a" stroke-width="0.55"/>
<line x1="466.01" y1="104.50" x2="466.01" y2="106.00" stroke="#2a2a2a" stroke-width="0.55"/>
<line x1="467.36" y1="104.50" x2="467.36" y2="106.00" stroke="#2a2a2a" stroke-width="0.55"/>
<line x1="468.54" y1="104.50" x2="468.54" y2="106.00" stroke="#2a2a2a" stroke-width="0.55"/>
<line x1="469.57" y1="104.50" x2="469.57" y2="106.00" stroke="#2a2a2a" stroke-width="0.55"/>
<line x1="395.30" y1="104.50" x2="395.30" y2="106.00" stroke="#2a2a2a" stroke-width="0.55"/>
<line x1="396.80" y1="104.50" x2="396.80" y2="106.00" stroke="#2a2a2a" stroke-width="0.55"/>
<line x1="398.30" y1="104.50" x2="398.30" y2="106.00" stroke="#2a2a2a" stroke-width="0.55"/>
<line x1="399.80" y1="104.50" x2="399.80" y2="106.00" stroke="#2a2a2a" stroke-width="0.55"/>
<line x1="402.80" y1="104.50" x2="402.80" y2="106.00" stroke="#2a2a2a" stroke-width="0.55"/>
<line x1="404.30" y1="104.50" x2="404.30" y2="106.00" stroke="#2a2a2a" stroke-width="0.55"/>
<line x1="405.80" y1="104.50" x2="405.80" y2="106.00" stroke="#2a2a2a" stroke-width="0.55"/>
<line x1="407.30" y1="104.50" x2="407.30" y2="106.00" stroke="#2a2a2a" stroke-width="0.55"/>
<text x="401.3" y="114.6" font-size="6.0" text-anchor="middle" fill="#2e2e2e" stroke="#2e2e2e" stroke-width="0.1">0</text>
<text x="428.8" y="114.8" font-size="5.9" text-anchor="middle" fill="#2e2e2e" stroke="#2e2e2e" stroke-width="0.1">10</text>
<text x="432.0" y="112.0" font-size="3.9" text-anchor="start" fill="#2e2e2e" stroke="#2e2e2e" stroke-width="0.05">3</text>
<text x="448.8" y="114.8" font-size="5.9" text-anchor="middle" fill="#2e2e2e" stroke="#2e2e2e" stroke-width="0.1">10</text>
<text x="452.0" y="112.0" font-size="3.9" text-anchor="start" fill="#2e2e2e" stroke="#2e2e2e" stroke-width="0.05">4</text>
<text x="469.3" y="114.8" font-size="5.9" text-anchor="middle" fill="#2e2e2e" stroke="#2e2e2e" stroke-width="0.1">10</text>
<text x="472.5" y="112.0" font-size="3.9" text-anchor="start" fill="#2e2e2e" stroke="#2e2e2e" stroke-width="0.05">5</text>
<text x="435.2" y="15.5" font-size="8.4" text-anchor="middle" fill="#222" textLength="32.0" lengthAdjust="spacingAndGlyphs" stroke="#222" stroke-width="0.08">#4 T-ALL</text>
<text x="414.7" y="71.0" font-size="7.0" text-anchor="start" fill="#3a3a3a" textLength="18.3" lengthAdjust="spacingAndGlyphs" stroke="#3a3a3a" stroke-width="0.05">52.3%</text>
<line x1="22.20" y1="123.30" x2="22.20" y2="88.50" stroke="#222" stroke-width="0.8"/>
<path d="M22.2,85.6 L20.5,89.4 L23.9,89.4 Z" fill="#222"/>
<line x1="22.20" y1="123.30" x2="59.50" y2="123.30" stroke="#222" stroke-width="0.8"/>
<path d="M62.6,123.3 L58.8,121.6 L58.8,125.0 Z" fill="#222"/>
<text x="24.6" y="74.9" font-size="7.0" text-anchor="middle" fill="#1a1a1a" textLength="14.0" lengthAdjust="spacingAndGlyphs" transform="rotate(-90 24.6 74.9)" stroke="#1a1a1a" stroke-width="0.35">Count</text>
<text x="65.8" y="125.7" font-size="7.4" text-anchor="start" fill="#1a1a1a" textLength="10.4" lengthAdjust="spacingAndGlyphs" stroke="#1a1a1a" stroke-width="0.35">CD7</text>
<rect x="491.40" y="56.20" width="6.00" height="5.40" fill="#845c98" stroke="#4c2a62" stroke-width="0.8"/>
<rect x="491.40" y="65.60" width="6.00" height="5.40" fill="#fff" stroke="#bc2c50" stroke-width="0.8"/>
<text x="500.2" y="61.2" font-size="5.8" text-anchor="start" fill="#444" textLength="9.6" lengthAdjust="spacingAndGlyphs" stroke="#444" stroke-width="0.05">ISO</text>
<text x="500.2" y="70.6" font-size="5.8" text-anchor="start" fill="#444" textLength="11.6" lengthAdjust="spacingAndGlyphs" stroke="#444" stroke-width="0.05">CD7</text>
<text x="7.2" y="153.2" font-size="11.2" text-anchor="start" fill="#111" font-weight="bold">B</text>
<line x1="68.75" y1="179.25" x2="68.75" y2="172.00" stroke="#4f5d8f" stroke-width="0.9"/>
<line x1="65.35" y1="172.00" x2="72.15" y2="172.00" stroke="#4f5d8f" stroke-width="0.9"/>
<rect x="61.25" y="179.25" width="15.00" height="61.50" fill="#7587b5" stroke="#4f5d8f" stroke-width="0.5"/>
<line x1="68.75" y1="240.75" x2="68.75" y2="243.25" stroke="#2a2a2a" stroke-width="0.8"/>
<line x1="90.75" y1="182.00" x2="90.75" y2="172.50" stroke="#6ea35a" stroke-width="0.9"/>
<line x1="87.35" y1="172.50" x2="94.15" y2="172.50" stroke="#6ea35a" stroke-width="0.9"/>
<rect x="83.25" y="182.00" width="15.00" height="58.75" fill="#98ca7f" stroke="#6ea35a" stroke-width="0.5"/>
<line x1="90.75" y1="240.75" x2="90.75" y2="243.25" stroke="#2a2a2a" stroke-width="0.8"/>
<line x1="113.50" y1="198.50" x2="113.50" y2="194.50" stroke="#c65650" stroke-width="0.9"/>
<line x1="110.10" y1="194.50" x2="116.90" y2="194.50" stroke="#c65650" stroke-width="0.9"/>
<rect x="106.00" y="198.50" width="15.00" height="42.25" fill="#dd736a" stroke="#c65650" stroke-width="0.5"/>
<line x1="113.50" y1="240.75" x2="113.50" y2="243.25" stroke="#2a2a2a" stroke-width="0.8"/>
<line x1="53.75" y1="163.45" x2="53.75" y2="241.25" stroke="#2a2a2a" stroke-width="1.2"/>
<line x1="53.25" y1="240.75" x2="128.75" y2="240.75" stroke="#2a2a2a" stroke-width="1.1"/>
<line x1="50.85" y1="240.75" x2="53.75" y2="240.75" stroke="#2a2a2a" stroke-width="0.9"/>
<text x="47.65" y="243.45" font-size="6.4" text-anchor="end" fill="#2e2e2e" stroke="#2e2e2e" stroke-width="0.1">0</text>
<line x1="50.85" y1="222.12" x2="53.75" y2="222.12" stroke="#2a2a2a" stroke-width="0.9"/>
<text x="47.65" y="224.825" font-size="6.4" text-anchor="end" fill="#2e2e2e" stroke="#2e2e2e" stroke-width="0.1">5000</text>
<line x1="50.85" y1="203.50" x2="53.75" y2="203.50" stroke="#2a2a2a" stroke-width="0.9"/>
<text x="47.65" y="206.2" font-size="6.4" text-anchor="end" fill="#2e2e2e" stroke="#2e2e2e" stroke-width="0.1">10000</text>
<line x1="50.85" y1="184.88" x2="53.75" y2="184.88" stroke="#2a2a2a" stroke-width="0.9"/>
<text x="47.65" y="187.575" font-size="6.4" text-anchor="end" fill="#2e2e2e" stroke="#2e2e2e" stroke-width="0.1">15000</text>
<line x1="50.85" y1="166.25" x2="53.75" y2="166.25" stroke="#2a2a2a" stroke-width="0.9"/>
<text x="47.65" y="168.95" font-size="6.4" text-anchor="end" fill="#2e2e2e" stroke="#2e2e2e" stroke-width="0.1">20000</text>
<line x1="70.25" y1="163.50" x2="113.60" y2="163.50" stroke="#2a2a2a" stroke-width="0.95"/>
<text x="91.925" y="163.6" font-size="5.5" text-anchor="middle" fill="#333" stroke="#333" stroke-width="0.1">*</text>
<line x1="92.30" y1="169.50" x2="113.60" y2="169.50" stroke="#2a2a2a" stroke-width="0.95"/>
<text x="102.94999999999999" y="169.9" font-size="5.5" text-anchor="middle" fill="#333" stroke="#333" stroke-width="0.1">*</text>
<text x="91.85" y="152.6" font-size="8.4" text-anchor="middle" fill="#222" textLength="32.4" lengthAdjust="spacingAndGlyphs" stroke="#222" stroke-width="0.08">#1 T-ALL</text>
<text x="24.099999999999998" y="201.9" font-size="7.0" text-anchor="middle" fill="#1e1e1e" textLength="50.0" lengthAdjust="spacingAndGlyphs" transform="rotate(-90 24.099999999999998 201.9)" stroke="#1e1e1e" stroke-width="0.25">Remaining live cells</text>
<text x="68.25" y="251.0" font-size="6.3" text-anchor="end" fill="#2e2e2e" transform="rotate(-45 68.25 251.0)" stroke="#2e2e2e" stroke-width="0.1">NT</text>
<text x="90.25" y="251.0" font-size="6.3" text-anchor="end" fill="#2e2e2e" transform="rotate(-45 90.25 251.0)" stroke="#2e2e2e" stroke-width="0.1">MOCK</text>
<text x="113.0" y="251.0" font-size="6.3" text-anchor="end" fill="#2e2e2e" transform="rotate(-45 113.0 251.0)" stroke="#2e2e2e" stroke-width="0.1">SECTM1 CAR</text>
<line x1="198.75" y1="184.25" x2="198.75" y2="167.50" stroke="#4f5d8f" stroke-width="0.9"/>
<line x1="195.35" y1="167.50" x2="202.15" y2="167.50" stroke="#4f5d8f" stroke-width="0.9"/>
<rect x="191.25" y="184.25" width="15.00" height="56.50" fill="#7587b5" stroke="#4f5d8f" stroke-width="0.5"/>
<line x1="198.75" y1="240.75" x2="198.75" y2="243.25" stroke="#2a2a2a" stroke-width="0.8"/>
<line x1="220.75" y1="200.75" x2="220.75" y2="195.75" stroke="#6ea35a" stroke-width="0.9"/>
<line x1="217.35" y1="195.75" x2="224.15" y2="195.75" stroke="#6ea35a" stroke-width="0.9"/>
<rect x="213.25" y="200.75" width="15.00" height="40.00" fill="#98ca7f" stroke="#6ea35a" stroke-width="0.5"/>
<line x1="220.75" y1="240.75" x2="220.75" y2="243.25" stroke="#2a2a2a" stroke-width="0.8"/>
<line x1="243.50" y1="232.50" x2="243.50" y2="231.80" stroke="#c65650" stroke-width="0.9"/>
<line x1="240.10" y1="231.80" x2="246.90" y2="231.80" stroke="#c65650" stroke-width="0.9"/>
<rect x="236.00" y="232.50" width="15.00" height="8.25" fill="#dd736a" stroke="#c65650" stroke-width="0.5"/>
<line x1="243.50" y1="240.75" x2="243.50" y2="243.25" stroke="#2a2a2a" stroke-width="0.8"/>
<line x1="183.75" y1="163.45" x2="183.75" y2="241.25" stroke="#2a2a2a" stroke-width="1.2"/>
<line x1="183.25" y1="240.75" x2="258.75" y2="240.75" stroke="#2a2a2a" stroke-width="1.1"/>
<line x1="180.85" y1="240.75" x2="183.75" y2="240.75" stroke="#2a2a2a" stroke-width="0.9"/>
<text x="177.65" y="243.45" font-size="6.4" text-anchor="end" fill="#2e2e2e" stroke="#2e2e2e" stroke-width="0.1">0</text>
<line x1="180.85" y1="225.85" x2="183.75" y2="225.85" stroke="#2a2a2a" stroke-width="0.9"/>
<text x="177.65" y="228.54999999999998" font-size="6.4" text-anchor="end" fill="#2e2e2e" stroke="#2e2e2e" stroke-width="0.1">20000</text>
<line x1="180.85" y1="210.95" x2="183.75" y2="210.95" stroke="#2a2a2a" stroke-width="0.9"/>
<text x="177.65" y="213.64999999999998" font-size="6.4" text-anchor="end" fill="#2e2e2e" stroke="#2e2e2e" stroke-width="0.1">40000</text>
<line x1="180.85" y1="196.05" x2="183.75" y2="196.05" stroke="#2a2a2a" stroke-width="0.9"/>
<text x="177.65" y="198.75" font-size="6.4" text-anchor="end" fill="#2e2e2e" stroke="#2e2e2e" stroke-width="0.1">60000</text>
<line x1="180.85" y1="181.15" x2="183.75" y2="181.15" stroke="#2a2a2a" stroke-width="0.9"/>
<text x="177.65" y="183.85" font-size="6.4" text-anchor="end" fill="#2e2e2e" stroke="#2e2e2e" stroke-width="0.1">80000</text>
<line x1="180.85" y1="166.25" x2="183.75" y2="166.25" stroke="#2a2a2a" stroke-width="0.9"/>
<text x="177.65" y="168.95" font-size="6.4" text-anchor="end" fill="#2e2e2e" stroke="#2e2e2e" stroke-width="0.1">100000</text>
<line x1="197.90" y1="165.50" x2="242.50" y2="165.50" stroke="#2a2a2a" stroke-width="0.95"/>
<text x="220.2" y="166.2" font-size="5.5" text-anchor="middle" fill="#333" stroke="#333" stroke-width="0.1">**</text>
<line x1="221.60" y1="193.50" x2="242.50" y2="193.50" stroke="#2a2a2a" stroke-width="0.95"/>
<text x="232.05" y="193.5" font-size="5.5" text-anchor="middle" fill="#333" stroke="#333" stroke-width="0.1">*</text>
<text x="221.85" y="152.6" font-size="8.4" text-anchor="middle" fill="#222" textLength="32.4" lengthAdjust="spacingAndGlyphs" stroke="#222" stroke-width="0.08">#2 T-ALL</text>
<text x="151.15" y="201.9" font-size="7.0" text-anchor="middle" fill="#1e1e1e" textLength="50.0" lengthAdjust="spacingAndGlyphs" transform="rotate(-90 151.15 201.9)" stroke="#1e1e1e" stroke-width="0.25">Remaining live cells</text>
<text x="198.25" y="251.0" font-size="6.3" text-anchor="end" fill="#2e2e2e" transform="rotate(-45 198.25 251.0)" stroke="#2e2e2e" stroke-width="0.1">NT</text>
<text x="220.25" y="251.0" font-size="6.3" text-anchor="end" fill="#2e2e2e" transform="rotate(-45 220.25 251.0)" stroke="#2e2e2e" stroke-width="0.1">MOCK</text>
<text x="243.0" y="251.0" font-size="6.3" text-anchor="end" fill="#2e2e2e" transform="rotate(-45 243.0 251.0)" stroke="#2e2e2e" stroke-width="0.1">SECTM1 CAR</text>
<line x1="328.75" y1="194.25" x2="328.75" y2="187.25" stroke="#4f5d8f" stroke-width="0.9"/>
<line x1="325.35" y1="187.25" x2="332.15" y2="187.25" stroke="#4f5d8f" stroke-width="0.9"/>
<rect x="321.25" y="194.25" width="15.00" height="46.50" fill="#7587b5" stroke="#4f5d8f" stroke-width="0.5"/>
<line x1="328.75" y1="240.75" x2="328.75" y2="243.25" stroke="#2a2a2a" stroke-width="0.8"/>
<line x1="350.75" y1="188.00" x2="350.75" y2="178.25" stroke="#6ea35a" stroke-width="0.9"/>
<line x1="347.35" y1="178.25" x2="354.15" y2="178.25" stroke="#6ea35a" stroke-width="0.9"/>
<rect x="343.25" y="188.00" width="15.00" height="52.75" fill="#98ca7f" stroke="#6ea35a" stroke-width="0.5"/>
<line x1="350.75" y1="240.75" x2="350.75" y2="243.25" stroke="#2a2a2a" stroke-width="0.8"/>
<line x1="373.50" y1="225.75" x2="373.50" y2="220.50" stroke="#c65650" stroke-width="0.9"/>
<line x1="370.10" y1="220.50" x2="376.90" y2="220.50" stroke="#c65650" stroke-width="0.9"/>
<rect x="366.00" y="225.75" width="15.00" height="15.00" fill="#dd736a" stroke="#c65650" stroke-width="0.5"/>
<line x1="373.50" y1="240.75" x2="373.50" y2="243.25" stroke="#2a2a2a" stroke-width="0.8"/>
<line x1="313.75" y1="163.45" x2="313.75" y2="241.25" stroke="#2a2a2a" stroke-width="1.2"/>
<line x1="313.25" y1="240.75" x2="388.75" y2="240.75" stroke="#2a2a2a" stroke-width="1.1"/>
<line x1="310.85" y1="240.75" x2="313.75" y2="240.75" stroke="#2a2a2a" stroke-width="0.9"/>
<text x="307.65" y="243.45" font-size="6.4" text-anchor="end" fill="#2e2e2e" stroke="#2e2e2e" stroke-width="0.1">0</text>
<line x1="310.85" y1="225.85" x2="313.75" y2="225.85" stroke="#2a2a2a" stroke-width="0.9"/>
<text x="307.65" y="228.54999999999998" font-size="6.4" text-anchor="end" fill="#2e2e2e" stroke="#2e2e2e" stroke-width="0.1">20000</text>
<line x1="310.85" y1="210.95" x2="313.75" y2="210.95" stroke="#2a2a2a" stroke-width="0.9"/>
<text x="307.65" y="213.64999999999998" font-size="6.4" text-anchor="end" fill="#2e2e2e" stroke="#2e2e2e" stroke-width="0.1">40000</text>
<line x1="310.85" y1="196.05" x2="313.75" y2="196.05" stroke="#2a2a2a" stroke-width="0.9"/>
<text x="307.65" y="198.75" font-size="6.4" text-anchor="end" fill="#2e2e2e" stroke="#2e2e2e" stroke-width="0.1">60000</text>
<line x1="310.85" y1="181.15" x2="313.75" y2="181.15" stroke="#2a2a2a" stroke-width="0.9"/>
<text x="307.65" y="183.85" font-size="6.4" text-anchor="end" fill="#2e2e2e" stroke="#2e2e2e" stroke-width="0.1">80000</text>
<line x1="310.85" y1="166.25" x2="313.75" y2="166.25" stroke="#2a2a2a" stroke-width="0.9"/>
<text x="307.65" y="168.95" font-size="6.4" text-anchor="end" fill="#2e2e2e" stroke="#2e2e2e" stroke-width="0.1">100000</text>
<line x1="329.00" y1="169.50" x2="372.60" y2="169.50" stroke="#2a2a2a" stroke-width="0.95"/>
<text x="350.8" y="169.6" font-size="5.5" text-anchor="middle" fill="#333" stroke="#333" stroke-width="0.1">**</text>
<line x1="350.60" y1="175.50" x2="372.60" y2="175.50" stroke="#2a2a2a" stroke-width="0.95"/>
<text x="361.6" y="175.75" font-size="5.5" text-anchor="middle" fill="#333" stroke="#333" stroke-width="0.1">**</text>
<text x="351.85" y="152.6" font-size="8.4" text-anchor="middle" fill="#222" textLength="32.4" lengthAdjust="spacingAndGlyphs" stroke="#222" stroke-width="0.08">#3 T-ALL</text>
<text x="281.15" y="201.9" font-size="7.0" text-anchor="middle" fill="#1e1e1e" textLength="50.0" lengthAdjust="spacingAndGlyphs" transform="rotate(-90 281.15 201.9)" stroke="#1e1e1e" stroke-width="0.25">Remaining live cells</text>
<text x="328.25" y="251.0" font-size="6.3" text-anchor="end" fill="#2e2e2e" transform="rotate(-45 328.25 251.0)" stroke="#2e2e2e" stroke-width="0.1">NT</text>
<text x="350.25" y="251.0" font-size="6.3" text-anchor="end" fill="#2e2e2e" transform="rotate(-45 350.25 251.0)" stroke="#2e2e2e" stroke-width="0.1">MOCK</text>
<text x="373.0" y="251.0" font-size="6.3" text-anchor="end" fill="#2e2e2e" transform="rotate(-45 373.0 251.0)" stroke="#2e2e2e" stroke-width="0.1">SECTM1 CAR</text>
<line x1="454.25" y1="188.20" x2="454.25" y2="172.25" stroke="#4f5d8f" stroke-width="0.9"/>
<line x1="450.85" y1="172.25" x2="457.65" y2="172.25" stroke="#4f5d8f" stroke-width="0.9"/>
<rect x="446.75" y="188.20" width="15.00" height="52.55" fill="#7587b5" stroke="#4f5d8f" stroke-width="0.5"/>
<line x1="454.25" y1="240.75" x2="454.25" y2="243.25" stroke="#2a2a2a" stroke-width="0.8"/>
<line x1="476.25" y1="194.20" x2="476.25" y2="180.40" stroke="#6ea35a" stroke-width="0.9"/>
<line x1="472.85" y1="180.40" x2="479.65" y2="180.40" stroke="#6ea35a" stroke-width="0.9"/>
<rect x="468.75" y="194.20" width="15.00" height="46.55" fill="#98ca7f" stroke="#6ea35a" stroke-width="0.5"/>
<line x1="476.25" y1="240.75" x2="476.25" y2="243.25" stroke="#2a2a2a" stroke-width="0.8"/>
<line x1="499.00" y1="216.00" x2="499.00" y2="209.50" stroke="#c65650" stroke-width="0.9"/>
<line x1="495.60" y1="209.50" x2="502.40" y2="209.50" stroke="#c65650" stroke-width="0.9"/>
<rect x="491.50" y="216.00" width="15.00" height="24.75" fill="#dd736a" stroke="#c65650" stroke-width="0.5"/>
<line x1="499.00" y1="240.75" x2="499.00" y2="243.25" stroke="#2a2a2a" stroke-width="0.8"/>
<line x1="439.25" y1="164.20" x2="439.25" y2="241.25" stroke="#2a2a2a" stroke-width="1.2"/>
<line x1="438.75" y1="240.75" x2="514.25" y2="240.75" stroke="#2a2a2a" stroke-width="1.1"/>
<line x1="436.35" y1="240.75" x2="439.25" y2="240.75" stroke="#2a2a2a" stroke-width="0.9"/>
<text x="433.15" y="243.45" font-size="6.4" text-anchor="end" fill="#2e2e2e" stroke="#2e2e2e" stroke-width="0.1">0</text>
<line x1="436.35" y1="226.00" x2="439.25" y2="226.00" stroke="#2a2a2a" stroke-width="0.9"/>
<text x="433.15" y="228.7" font-size="6.4" text-anchor="end" fill="#2e2e2e" stroke="#2e2e2e" stroke-width="0.1">5000</text>
<line x1="436.35" y1="211.25" x2="439.25" y2="211.25" stroke="#2a2a2a" stroke-width="0.9"/>
<text x="433.15" y="213.95" font-size="6.4" text-anchor="end" fill="#2e2e2e" stroke="#2e2e2e" stroke-width="0.1">10000</text>
<line x1="436.35" y1="196.50" x2="439.25" y2="196.50" stroke="#2a2a2a" stroke-width="0.9"/>
<text x="433.15" y="199.2" font-size="6.4" text-anchor="end" fill="#2e2e2e" stroke="#2e2e2e" stroke-width="0.1">15000</text>
<line x1="436.35" y1="181.75" x2="439.25" y2="181.75" stroke="#2a2a2a" stroke-width="0.9"/>
<text x="433.15" y="184.45" font-size="6.4" text-anchor="end" fill="#2e2e2e" stroke="#2e2e2e" stroke-width="0.1">20000</text>
<line x1="436.35" y1="167.00" x2="439.25" y2="167.00" stroke="#2a2a2a" stroke-width="0.9"/>
<text x="433.15" y="169.7" font-size="6.4" text-anchor="end" fill="#2e2e2e" stroke="#2e2e2e" stroke-width="0.1">25000</text>
<line x1="454.50" y1="167.50" x2="497.30" y2="167.50" stroke="#2a2a2a" stroke-width="0.95"/>
<text x="475.9" y="167.75" font-size="5.5" text-anchor="middle" fill="#333" stroke="#333" stroke-width="0.1">*</text>
<line x1="476.25" y1="177.50" x2="497.30" y2="177.50" stroke="#2a2a2a" stroke-width="0.95"/>
<text x="486.775" y="177.7" font-size="5.5" text-anchor="middle" fill="#333" stroke="#333" stroke-width="0.1">*</text>
<text x="477.35" y="152.6" font-size="8.4" text-anchor="middle" fill="#222" textLength="32.4" lengthAdjust="spacingAndGlyphs" stroke="#222" stroke-width="0.08">#4 T-ALL</text>
<text x="410.4" y="204.2" font-size="7.0" text-anchor="middle" fill="#1e1e1e" textLength="50.0" lengthAdjust="spacingAndGlyphs" transform="rotate(-90 410.4 204.2)" stroke="#1e1e1e" stroke-width="0.25">Remaining live cells</text>
<text x="453.75" y="251.0" font-size="6.3" text-anchor="end" fill="#2e2e2e" transform="rotate(-45 453.75 251.0)" stroke="#2e2e2e" stroke-width="0.1">NT</text>
<text x="475.75" y="251.0" font-size="6.3" text-anchor="end" fill="#2e2e2e" transform="rotate(-45 475.75 251.0)" stroke="#2e2e2e" stroke-width="0.1">MOCK</text>
<text x="498.5" y="251.0" font-size="6.3" text-anchor="end" fill="#2e2e2e" transform="rotate(-45 498.5 251.0)" stroke="#2e2e2e" stroke-width="0.1">SECTM1 CAR</text>
<text x="6.7" y="304.4" font-size="11.2" text-anchor="start" fill="#111" font-weight="bold">C</text>
<rect x="60.20" y="427.30" width="3.20" height="1.20" fill="#2a2d40"/>
<rect x="72.40" y="427.30" width="3.20" height="1.20" fill="#4f8a3d"/>
<line x1="86.50" y1="367.00" x2="86.50" y2="352.50" stroke="#c65650" stroke-width="0.9"/>
<line x1="83.90" y1="352.50" x2="89.10" y2="352.50" stroke="#c65650" stroke-width="0.9"/>
<rect x="82.50" y="367.00" width="8.00" height="61.50" fill="#dd736a" stroke="#c65650" stroke-width="0.4"/>
<line x1="74.00" y1="428.50" x2="74.00" y2="430.80" stroke="#2a2a2a" stroke-width="0.8"/>
<text x="74.0" y="439.7" font-size="6.0" text-anchor="middle" fill="#2e2e2e" textLength="24.4" lengthAdjust="spacingAndGlyphs" stroke="#2e2e2e" stroke-width="0.06">#1 T-ALL</text>
<rect x="105.00" y="427.30" width="3.20" height="1.20" fill="#2a2d40"/>
<rect x="117.20" y="427.30" width="3.20" height="1.20" fill="#4f8a3d"/>
<line x1="131.30" y1="359.60" x2="131.30" y2="346.30" stroke="#c65650" stroke-width="0.9"/>
<line x1="128.70" y1="346.30" x2="133.90" y2="346.30" stroke="#c65650" stroke-width="0.9"/>
<rect x="127.30" y="359.60" width="8.00" height="68.90" fill="#dd736a" stroke="#c65650" stroke-width="0.4"/>
<line x1="118.80" y1="428.50" x2="118.80" y2="430.80" stroke="#2a2a2a" stroke-width="0.8"/>
<text x="118.8" y="439.7" font-size="6.0" text-anchor="middle" fill="#2e2e2e" textLength="24.4" lengthAdjust="spacingAndGlyphs" stroke="#2e2e2e" stroke-width="0.06">#2 T-ALL</text>
<rect x="149.70" y="427.30" width="3.20" height="1.20" fill="#2a2d40"/>
<rect x="161.90" y="427.30" width="3.20" height="1.20" fill="#4f8a3d"/>
<line x1="176.00" y1="346.10" x2="176.00" y2="331.30" stroke="#c65650" stroke-width="0.9"/>
<line x1="173.40" y1="331.30" x2="178.60" y2="331.30" stroke="#c65650" stroke-width="0.9"/>
<rect x="172.00" y="346.10" width="8.00" height="82.40" fill="#dd736a" stroke="#c65650" stroke-width="0.4"/>
<line x1="163.50" y1="428.50" x2="163.50" y2="430.80" stroke="#2a2a2a" stroke-width="0.8"/>
<text x="163.5" y="439.7" font-size="6.0" text-anchor="middle" fill="#2e2e2e" textLength="24.4" lengthAdjust="spacingAndGlyphs" stroke="#2e2e2e" stroke-width="0.06">#3 T-ALL</text>
<rect x="194.20" y="427.30" width="3.20" height="1.20" fill="#2a2d40"/>
<rect x="206.40" y="427.30" width="3.20" height="1.20" fill="#4f8a3d"/>
<line x1="220.50" y1="345.30" x2="220.50" y2="337.40" stroke="#c65650" stroke-width="0.9"/>
<line x1="217.90" y1="337.40" x2="223.10" y2="337.40" stroke="#c65650" stroke-width="0.9"/>
<rect x="216.50" y="345.30" width="8.00" height="83.20" fill="#dd736a" stroke="#c65650" stroke-width="0.4"/>
<line x1="208.00" y1="428.50" x2="208.00" y2="430.80" stroke="#2a2a2a" stroke-width="0.8"/>
<text x="208.0" y="439.7" font-size="6.0" text-anchor="middle" fill="#2e2e2e" textLength="24.4" lengthAdjust="spacingAndGlyphs" stroke="#2e2e2e" stroke-width="0.06">#4 T-ALL</text>
<line x1="62.50" y1="348.50" x2="86.25" y2="348.50" stroke="#2a2a2a" stroke-width="0.95"/>
<text x="74.375" y="349.25" font-size="6.6" text-anchor="middle" fill="#333" textLength="6.8" lengthAdjust="spacingAndGlyphs" stroke="#333" stroke-width="0.1">***</text>
<line x1="74.25" y1="341.50" x2="86.25" y2="341.50" stroke="#2a2a2a" stroke-width="0.95"/>
<text x="80.25" y="341.75" font-size="6.6" text-anchor="middle" fill="#333" textLength="6.8" lengthAdjust="spacingAndGlyphs" stroke="#333" stroke-width="0.1">***</text>
<line x1="106.70" y1="340.50" x2="131.00" y2="340.50" stroke="#2a2a2a" stroke-width="0.95"/>
<text x="118.85" y="341.2" font-size="6.6" text-anchor="middle" fill="#333" textLength="6.8" lengthAdjust="spacingAndGlyphs" stroke="#333" stroke-width="0.1">***</text>
<line x1="118.80" y1="333.50" x2="131.80" y2="333.50" stroke="#2a2a2a" stroke-width="0.95"/>
<text x="125.30000000000001" y="334.0" font-size="6.6" text-anchor="middle" fill="#333" textLength="6.8" lengthAdjust="spacingAndGlyphs" stroke="#333" stroke-width="0.1">***</text>
<line x1="151.70" y1="326.50" x2="175.40" y2="326.50" stroke="#2a2a2a" stroke-width="0.95"/>
<text x="163.55" y="326.5" font-size="6.6" text-anchor="middle" fill="#333" textLength="6.8" lengthAdjust="spacingAndGlyphs" stroke="#333" stroke-width="0.1">***</text>
<line x1="163.80" y1="318.50" x2="176.00" y2="318.50" stroke="#2a2a2a" stroke-width="0.95"/>
<text x="169.9" y="319.2" font-size="6.6" text-anchor="middle" fill="#333" textLength="6.8" lengthAdjust="spacingAndGlyphs" stroke="#333" stroke-width="0.1">***</text>
<line x1="195.60" y1="333.50" x2="219.00" y2="333.50" stroke="#2a2a2a" stroke-width="0.95"/>
<text x="207.3" y="334.0" font-size="6.6" text-anchor="middle" fill="#333" textLength="6.8" lengthAdjust="spacingAndGlyphs" stroke="#333" stroke-width="0.1">***</text>
<line x1="208.50" y1="326.50" x2="220.40" y2="326.50" stroke="#2a2a2a" stroke-width="0.95"/>
<text x="214.45" y="326.5" font-size="6.6" text-anchor="middle" fill="#333" textLength="6.8" lengthAdjust="spacingAndGlyphs" stroke="#333" stroke-width="0.1">***</text>
<line x1="54.00" y1="309.40" x2="54.00" y2="429.00" stroke="#2a2a2a" stroke-width="1.2"/>
<line x1="54.00" y1="428.50" x2="229.00" y2="428.50" stroke="#2a2a2a" stroke-width="1.1"/>
<line x1="51.40" y1="428.50" x2="54.00" y2="428.50" stroke="#2a2a2a" stroke-width="0.9"/>
<text x="47.8" y="431.1" font-size="6.4" text-anchor="end" fill="#2e2e2e" stroke="#2e2e2e" stroke-width="0.1">0</text>
<line x1="51.40" y1="409.08" x2="54.00" y2="409.08" stroke="#2a2a2a" stroke-width="0.9"/>
<text x="47.8" y="411.68333333333334" font-size="6.4" text-anchor="end" fill="#2e2e2e" stroke="#2e2e2e" stroke-width="0.1">10000</text>
<line x1="51.40" y1="389.67" x2="54.00" y2="389.67" stroke="#2a2a2a" stroke-width="0.9"/>
<text x="47.8" y="392.2666666666667" font-size="6.4" text-anchor="end" fill="#2e2e2e" stroke="#2e2e2e" stroke-width="0.1">20000</text>
<line x1="51.40" y1="370.25" x2="54.00" y2="370.25" stroke="#2a2a2a" stroke-width="0.9"/>
<text x="47.8" y="372.85" font-size="6.4" text-anchor="end" fill="#2e2e2e" stroke="#2e2e2e" stroke-width="0.1">30000</text>
<line x1="51.40" y1="350.83" x2="54.00" y2="350.83" stroke="#2a2a2a" stroke-width="0.9"/>
<text x="47.8" y="353.43333333333334" font-size="6.4" text-anchor="end" fill="#2e2e2e" stroke="#2e2e2e" stroke-width="0.1">40000</text>
<line x1="51.40" y1="331.42" x2="54.00" y2="331.42" stroke="#2a2a2a" stroke-width="0.9"/>
<text x="47.8" y="334.0166666666667" font-size="6.4" text-anchor="end" fill="#2e2e2e" stroke="#2e2e2e" stroke-width="0.1">50000</text>
<line x1="51.40" y1="312.00" x2="54.00" y2="312.00" stroke="#2a2a2a" stroke-width="0.9"/>
<text x="47.8" y="314.6" font-size="6.4" text-anchor="end" fill="#2e2e2e" stroke="#2e2e2e" stroke-width="0.1">60000</text>
<text x="141.5" y="303.8" font-size="8.0" text-anchor="middle" fill="#222" stroke="#222" stroke-width="0.08">IFN <tspan font-family="Liberation Serif">&#947;</tspan></text>
<text x="23.4" y="369.3" font-size="6.7" text-anchor="middle" fill="#222" textLength="35.8" lengthAdjust="spacingAndGlyphs" transform="rotate(-90 23.4 369.3)" stroke="#222" stroke-width="0.15">IFN <tspan font-family="Liberation Serif">&#947;</tspan> (pg/ml)</text>
<rect x="282.70" y="427.10" width="3.20" height="1.20" fill="#2a2d40"/>
<rect x="294.90" y="427.10" width="3.20" height="1.20" fill="#4f8a3d"/>
<line x1="309.00" y1="388.00" x2="309.00" y2="383.25" stroke="#c65650" stroke-width="0.9"/>
<line x1="306.40" y1="383.25" x2="311.60" y2="383.25" stroke="#c65650" stroke-width="0.9"/>
<rect x="305.00" y="388.00" width="8.00" height="40.30" fill="#dd736a" stroke="#c65650" stroke-width="0.4"/>
<line x1="296.50" y1="428.30" x2="296.50" y2="430.60" stroke="#2a2a2a" stroke-width="0.8"/>
<text x="296.5" y="439.7" font-size="6.0" text-anchor="middle" fill="#2e2e2e" textLength="24.4" lengthAdjust="spacingAndGlyphs" stroke="#2e2e2e" stroke-width="0.06">#1 T-ALL</text>
<rect x="326.50" y="427.10" width="3.20" height="1.20" fill="#2a2d40"/>
<rect x="338.70" y="427.10" width="3.20" height="1.20" fill="#4f8a3d"/>
<line x1="352.80" y1="384.50" x2="352.80" y2="375.50" stroke="#c65650" stroke-width="0.9"/>
<line x1="350.20" y1="375.50" x2="355.40" y2="375.50" stroke="#c65650" stroke-width="0.9"/>
<rect x="348.80" y="384.50" width="8.00" height="43.80" fill="#dd736a" stroke="#c65650" stroke-width="0.4"/>
<line x1="340.30" y1="428.30" x2="340.30" y2="430.60" stroke="#2a2a2a" stroke-width="0.8"/>
<text x="340.3" y="439.7" font-size="6.0" text-anchor="middle" fill="#2e2e2e" textLength="24.4" lengthAdjust="spacingAndGlyphs" stroke="#2e2e2e" stroke-width="0.06">#2 T-ALL</text>
<rect x="370.40" y="427.10" width="3.20" height="1.20" fill="#2a2d40"/>
<rect x="382.60" y="427.10" width="3.20" height="1.20" fill="#4f8a3d"/>
<line x1="396.70" y1="364.70" x2="396.70" y2="350.70" stroke="#c65650" stroke-width="0.9"/>
<line x1="394.10" y1="350.70" x2="399.30" y2="350.70" stroke="#c65650" stroke-width="0.9"/>
<rect x="392.70" y="364.70" width="8.00" height="63.60" fill="#dd736a" stroke="#c65650" stroke-width="0.4"/>
<line x1="384.20" y1="428.30" x2="384.20" y2="430.60" stroke="#2a2a2a" stroke-width="0.8"/>
<text x="384.2" y="439.7" font-size="6.0" text-anchor="middle" fill="#2e2e2e" textLength="24.4" lengthAdjust="spacingAndGlyphs" stroke="#2e2e2e" stroke-width="0.06">#3 T-ALL</text>
<rect x="414.20" y="427.10" width="3.20" height="1.20" fill="#2a2d40"/>
<rect x="426.40" y="427.10" width="3.20" height="1.20" fill="#4f8a3d"/>
<line x1="440.50" y1="369.20" x2="440.50" y2="336.40" stroke="#c65650" stroke-width="0.9"/>
<line x1="437.90" y1="336.40" x2="443.10" y2="336.40" stroke="#c65650" stroke-width="0.9"/>
<rect x="436.50" y="369.20" width="8.00" height="59.10" fill="#dd736a" stroke="#c65650" stroke-width="0.4"/>
<line x1="428.00" y1="428.30" x2="428.00" y2="430.60" stroke="#2a2a2a" stroke-width="0.8"/>
<text x="428.0" y="439.7" font-size="6.0" text-anchor="middle" fill="#2e2e2e" textLength="24.4" lengthAdjust="spacingAndGlyphs" stroke="#2e2e2e" stroke-width="0.06">#4 T-ALL</text>
<line x1="285.50" y1="377.50" x2="308.25" y2="377.50" stroke="#2a2a2a" stroke-width="0.95"/>
<text x="296.875" y="378.0" font-size="6.6" text-anchor="middle" fill="#333" textLength="6.8" lengthAdjust="spacingAndGlyphs" stroke="#333" stroke-width="0.1">***</text>
<line x1="298.00" y1="370.50" x2="308.25" y2="370.50" stroke="#2a2a2a" stroke-width="0.95"/>
<text x="303.125" y="370.5" font-size="6.6" text-anchor="middle" fill="#333" textLength="6.8" lengthAdjust="spacingAndGlyphs" stroke="#333" stroke-width="0.1">***</text>
<line x1="328.75" y1="371.50" x2="351.25" y2="371.50" stroke="#2a2a2a" stroke-width="0.95"/>
<text x="340.0" y="372.25" font-size="6.6" text-anchor="middle" fill="#333" textLength="6.8" lengthAdjust="spacingAndGlyphs" stroke="#333" stroke-width="0.1">***</text>
<line x1="340.75" y1="364.50" x2="351.75" y2="364.50" stroke="#2a2a2a" stroke-width="0.95"/>
<text x="346.25" y="364.75" font-size="6.6" text-anchor="middle" fill="#333" textLength="6.8" lengthAdjust="spacingAndGlyphs" stroke="#333" stroke-width="0.1">***</text>
<line x1="372.30" y1="347.50" x2="395.70" y2="347.50" stroke="#2a2a2a" stroke-width="0.95"/>
<text x="384.0" y="347.8" font-size="6.6" text-anchor="middle" fill="#333" textLength="6.8" lengthAdjust="spacingAndGlyphs" stroke="#333" stroke-width="0.1">***</text>
<line x1="384.00" y1="340.50" x2="395.70" y2="340.50" stroke="#2a2a2a" stroke-width="0.95"/>
<text x="389.85" y="340.7" font-size="6.6" text-anchor="middle" fill="#333" textLength="6.8" lengthAdjust="spacingAndGlyphs" stroke="#333" stroke-width="0.1">***</text>
<line x1="415.80" y1="332.50" x2="439.90" y2="332.50" stroke="#2a2a2a" stroke-width="0.95"/>
<text x="427.85" y="332.9" font-size="6.6" text-anchor="middle" fill="#333" textLength="6.8" lengthAdjust="spacingAndGlyphs" stroke="#333" stroke-width="0.1">***</text>
<line x1="428.00" y1="325.50" x2="440.00" y2="325.50" stroke="#2a2a2a" stroke-width="0.95"/>
<text x="434.0" y="325.5" font-size="6.6" text-anchor="middle" fill="#333" textLength="6.8" lengthAdjust="spacingAndGlyphs" stroke="#333" stroke-width="0.1">***</text>
<line x1="277.30" y1="312.00" x2="277.30" y2="428.80" stroke="#2a2a2a" stroke-width="1.2"/>
<line x1="277.30" y1="428.30" x2="448.70" y2="428.30" stroke="#2a2a2a" stroke-width="1.1"/>
<line x1="274.70" y1="428.30" x2="277.30" y2="428.30" stroke="#2a2a2a" stroke-width="0.9"/>
<text x="271.1" y="430.90000000000003" font-size="6.4" text-anchor="end" fill="#2e2e2e" stroke="#2e2e2e" stroke-width="0.1">0</text>
<line x1="274.70" y1="405.56" x2="277.30" y2="405.56" stroke="#2a2a2a" stroke-width="0.9"/>
<text x="271.1" y="408.16" font-size="6.4" text-anchor="end" fill="#2e2e2e" stroke="#2e2e2e" stroke-width="0.1">300</text>
<line x1="274.70" y1="382.82" x2="277.30" y2="382.82" stroke="#2a2a2a" stroke-width="0.9"/>
<text x="271.1" y="385.42" font-size="6.4" text-anchor="end" fill="#2e2e2e" stroke="#2e2e2e" stroke-width="0.1">600</text>
<line x1="274.70" y1="360.08" x2="277.30" y2="360.08" stroke="#2a2a2a" stroke-width="0.9"/>
<text x="271.1" y="362.68000000000006" font-size="6.4" text-anchor="end" fill="#2e2e2e" stroke="#2e2e2e" stroke-width="0.1">900</text>
<line x1="274.70" y1="337.34" x2="277.30" y2="337.34" stroke="#2a2a2a" stroke-width="0.9"/>
<text x="271.1" y="339.94000000000005" font-size="6.4" text-anchor="end" fill="#2e2e2e" stroke="#2e2e2e" stroke-width="0.1">1200</text>
<line x1="274.70" y1="314.60" x2="277.30" y2="314.60" stroke="#2a2a2a" stroke-width="0.9"/>
<text x="271.1" y="317.20000000000005" font-size="6.4" text-anchor="end" fill="#2e2e2e" stroke="#2e2e2e" stroke-width="0.1">1500</text>
<text x="363.0" y="303.8" font-size="8.0" text-anchor="middle" fill="#222" stroke="#222" stroke-width="0.08">TNF <tspan font-family="Liberation Serif">&#945;</tspan></text>
<text x="251.4" y="370.2" font-size="6.7" text-anchor="middle" fill="#222" textLength="37.6" lengthAdjust="spacingAndGlyphs" transform="rotate(-90 251.4 370.2)" stroke="#222" stroke-width="0.3">TNF <tspan font-family="Liberation Serif">&#945;</tspan> (pg/ml)</text>
<rect x="451.50" y="356.30" width="6.10" height="5.60" fill="#7587b5" stroke="#4f5d8f" stroke-width="0.4"/>
<rect x="451.50" y="367.10" width="6.10" height="5.60" fill="#98ca7f" stroke="#6ea35a" stroke-width="0.4"/>
<rect x="451.50" y="378.30" width="6.10" height="5.60" fill="#dd736a" stroke="#c65650" stroke-width="0.4"/>
<text x="460.6" y="361.7" font-size="7.4" text-anchor="start" fill="#2a2a2a" textLength="8.9" lengthAdjust="spacingAndGlyphs" stroke="#2a2a2a" stroke-width="0.06">NT</text>
<text x="460.6" y="372.5" font-size="7.4" text-anchor="start" fill="#2a2a2a" textLength="22.2" lengthAdjust="spacingAndGlyphs" stroke="#2a2a2a" stroke-width="0.06">MOCK</text>
<text x="460.6" y="383.6" font-size="7.4" text-anchor="start" fill="#2a2a2a" textLength="45.7" lengthAdjust="spacingAndGlyphs" stroke="#2a2a2a" stroke-width="0.06">SECTM1 CAR</text>
<rect x="0" y="0" width="520" height="1.1" fill="#616161"/>
<rect x="0" y="0" width="1.1" height="448" fill="#666"/>
<rect x="518.9" y="0" width="1.1" height="448" fill="#666"/>
<rect x="0" y="446.6" width="520" height="1.4" fill="#666"/>
</svg></body></html>
